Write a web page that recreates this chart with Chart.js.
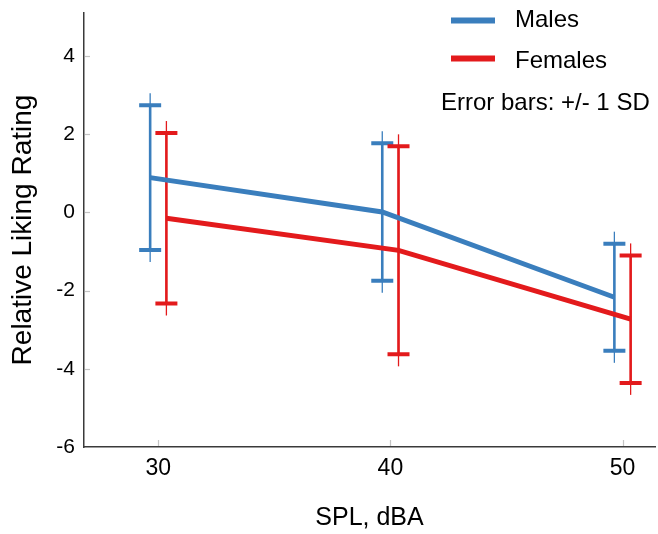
<!DOCTYPE html>
<html><head><meta charset="utf-8">
<script src="https://cdn.jsdelivr.net/npm/chart.js@4"></script>
<style>html,body{margin:0;padding:0;background:#fff}#wrap{width:658px;height:534px}</style>
</head><body><div id="wrap"><canvas id="c" width="658" height="534"></canvas></div>
<script>
// ---- data ----
const splLevels = [30, 40, 50];
const xTicks = [30, 40, 50];
const yTicks = [-6, -4, -2, 0, 2, 4];
const maleMean = [0.89, 0.01, -2.17];
const maleSD = [1.85, 1.76, 1.37];
const femaleMean = [-0.15, -0.97, -2.73];
const femaleSD = [2.18, 2.66, 1.63];
const seriesNames = ['Males', 'Females'];
const noteText = 'Error bars: +/- 1 SD';
const xTitle = 'SPL, dBA';
const yTitle = 'Relative Liking Rating';

// ---- style ----
const FONT = '"Liberation Sans", Arial, sans-serif';
const BLUE = '#3a7ebd';
const RED = '#e31a1c';
const dodge = 0.35;

function pts(means, sds, off) {
  return splLevels.map((s, i) => ({x: s + off, y: means[i], sd: sds[i]}));
}

const errorBars = {
  id: 'errorBars',
  beforeDatasetsDraw(chart) {
    const ctx = chart.ctx, ys = chart.scales.y, xs = chart.scales.x;
    chart.data.datasets.forEach((ds) => {
      ds.data.forEach(p => {
        const x = xs.getPixelForValue(p.x);
        const yU = ys.getPixelForValue(p.y + p.sd);
        const yL = ys.getPixelForValue(p.y - p.sd);
        ctx.save();
        ctx.strokeStyle = ds.borderColor;
        ctx.lineCap = 'butt';
        ctx.lineWidth = 1.3;
        ctx.beginPath(); ctx.moveTo(x, yU - 12); ctx.lineTo(x, yL + 12); ctx.stroke();
        ctx.lineWidth = 2.6;
        ctx.beginPath(); ctx.moveTo(x, yU); ctx.lineTo(x, yL); ctx.stroke();
        ctx.lineWidth = 4;
        ctx.beginPath();
        ctx.moveTo(x - 11, yU); ctx.lineTo(x + 11, yU);
        ctx.moveTo(x - 11, yL); ctx.lineTo(x + 11, yL);
        ctx.stroke();
        ctx.restore();
      });
    });
  }
};

const innerTicks = {
  id: 'innerTicks',
  afterDraw(chart) {
    const ctx = chart.ctx, ys = chart.scales.y, xs = chart.scales.x, a = chart.chartArea;
    ctx.save();
    ctx.strokeStyle = '#c4c4c4';
    ctx.lineWidth = 1.2;
    ys.ticks.forEach(t => {
      const y = Math.round(ys.getPixelForValue(t.value)) + 0.5;
      if (Math.abs(y - a.bottom) < 2) return;
      ctx.beginPath(); ctx.moveTo(a.left + 1, y); ctx.lineTo(a.left + 6, y); ctx.stroke();
    });
    xs.ticks.forEach(t => {
      const x = Math.round(xs.getPixelForValue(t.value)) + 0.5;
      ctx.beginPath(); ctx.moveTo(x, a.bottom - 1); ctx.lineTo(x, a.bottom - 7); ctx.stroke();
    });
    ctx.restore();
  }
};

const legendNote = {
  id: 'legendNote',
  afterDraw(chart) {
    const ctx = chart.ctx;
    ctx.save();
    ctx.font = '24px ' + FONT;
    ctx.fillStyle = '#000';
    ctx.textAlign = 'left';
    ctx.textBaseline = 'alphabetic';
    const rows = [{lineY: 20.5, base: 27.3}, {lineY: 58.5, base: 68.3}];
    chart.data.datasets.forEach((ds, i) => {
      ctx.strokeStyle = ds.borderColor;
      ctx.lineWidth = 6;
      ctx.beginPath(); ctx.moveTo(451, rows[i].lineY); ctx.lineTo(495, rows[i].lineY); ctx.stroke();
      ctx.fillText(ds.label, 515, rows[i].base);
    });
    ctx.fillText(noteText, 441, 110);
    ctx.restore();
  }
};

new Chart(document.getElementById('c'), {
  type: 'scatter',
  data: {
    datasets: [
      {label: seriesNames[0], data: pts(maleMean, maleSD, -dodge), borderColor: BLUE, backgroundColor: BLUE,
       showLine: true, borderWidth: 5, pointRadius: 0, pointHoverRadius: 0, tension: 0},
      {label: seriesNames[1], data: pts(femaleMean, femaleSD, dodge), borderColor: RED, backgroundColor: RED,
       showLine: true, borderWidth: 5, pointRadius: 0, pointHoverRadius: 0, tension: 0}
    ]
  },
  options: {
    responsive: false,
    devicePixelRatio: 1,
    animation: false,
    layout: {padding: {top: 13, right: 3, left: 0, bottom: 0}},
    plugins: {legend: {display: false}, tooltip: {enabled: false}},
    scales: {
      x: {
        type: 'linear', min: 26.8, max: 51.4,
        afterBuildTicks: s => { s.ticks = xTicks.map(v => ({value: v})); },
        afterFit: s => { s.height = 87; s.paddingLeft = 0; s.paddingRight = 0; },
        grid: {display: false, drawTicks: false},
        border: {display: true, color: '#3a3a3a', width: 1.5},
        ticks: {color: '#000', font: {family: FONT, size: 23}, padding: 8, callback: v => String(v)},
        title: {display: true, text: xTitle, color: '#000', font: {family: FONT, size: 25}, padding: {top: 0, bottom: 1}}
      },
      y: {
        type: 'linear', min: -6, max: 5.1,
        afterBuildTicks: s => { s.ticks = yTicks.map(v => ({value: v})); },
        afterFit: s => { s.width = 84; s.paddingTop = 0; s.paddingBottom = 0; },
        grid: {display: false, drawTicks: false},
        border: {display: true, color: '#3a3a3a', width: 1.5},
        ticks: {color: '#000', font: {family: FONT, size: 21}, padding: 9, callback: v => String(v)},
        title: {display: true, text: yTitle, color: '#000', font: {family: FONT, size: 28}, padding: {top: 6.5, bottom: 0}}
      }
    }
  },
  plugins: [errorBars, innerTicks, legendNote]
});
</script></body></html>
